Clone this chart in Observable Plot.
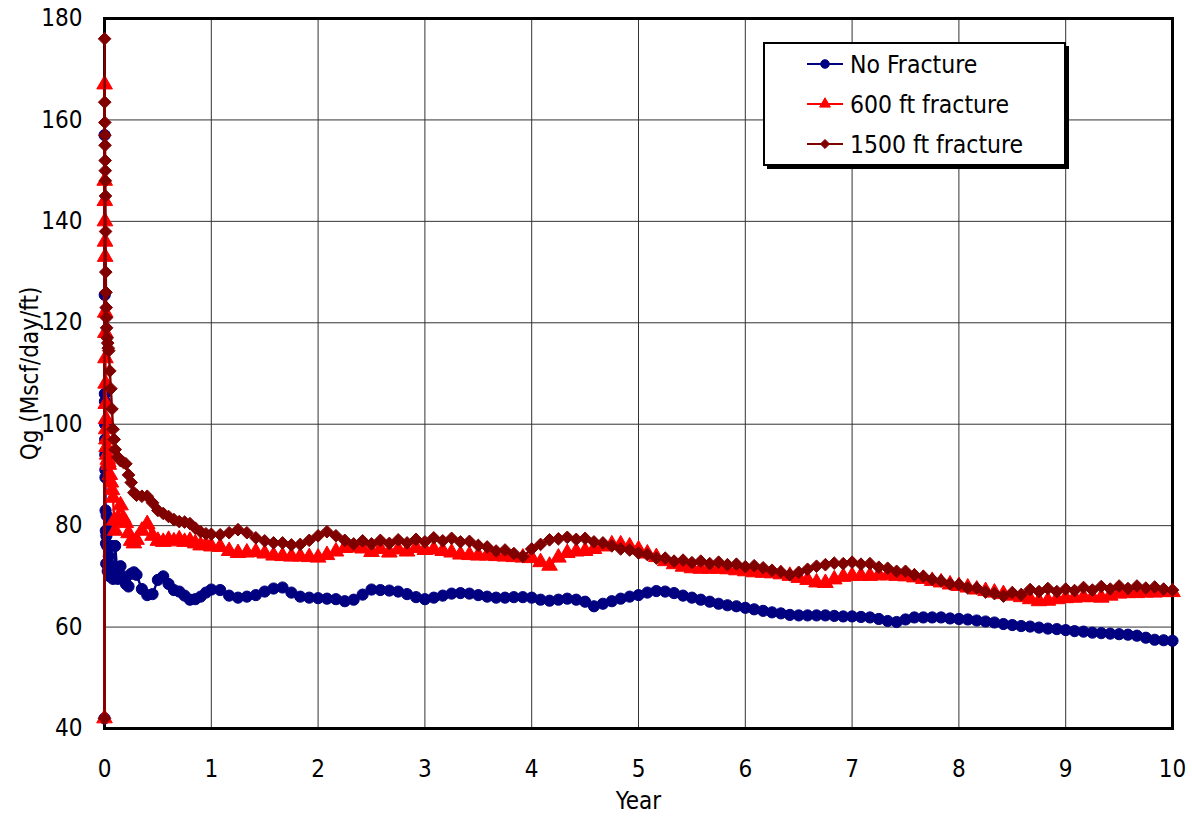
<!DOCTYPE html>
<html><head><meta charset="utf-8">
<script src="https://cdn.jsdelivr.net/npm/d3@7"></script>
<script src="https://cdn.jsdelivr.net/npm/@observablehq/plot@0.6"></script>
<style>
body{margin:0;background:#fff;}
#wrap{position:relative;width:1192px;height:817px;font-family:"DejaVu Sans Condensed","DejaVu Sans",sans-serif;font-stretch:condensed;}
</style></head><body><div id="wrap"></div>
<script>
const years = [0,0.001,0.002,0.003,0.004,0.005,0.006,0.007,0.008,0.009,0.01,0.012,0.014,0.016,0.018,0.02,0.025,0.03,0.035,0.04,0.05,0.06,0.07,0.08,
0.09,0.1,0.125,0.15,0.175,0.2,0.225,0.25,0.275,0.3,0.35,0.4,0.45,0.5,0.55,0.6,0.65,0.7,0.75,0.8,0.85,0.9,0.95,1,
1.083,1.167,1.25,1.333,1.417,1.5,1.583,1.667,1.75,1.833,1.917,2,
2.083,2.167,2.25,2.333,2.417,2.5,2.583,2.667,2.75,2.833,2.917,3,
3.083,3.167,3.25,3.333,3.417,3.5,3.583,3.667,3.75,3.833,3.917,4,
4.083,4.167,4.25,4.333,4.417,4.5,4.583,4.667,4.75,4.833,4.917,5,
5.083,5.167,5.25,5.333,5.417,5.5,5.583,5.667,5.75,5.833,5.917,6,
6.083,6.167,6.25,6.333,6.417,6.5,6.583,6.667,6.75,6.833,6.917,7,
7.083,7.167,7.25,7.333,7.417,7.5,7.583,7.667,7.75,7.833,7.917,8,
8.083,8.167,8.25,8.333,8.417,8.5,8.583,8.667,8.75,8.833,8.917,9,
9.083,9.167,9.25,9.333,9.417,9.5,9.583,9.667,9.75,9.833,9.917,10];

const noFracture = [42,157,125.5,106,104.5,100,97,94,91,89.5,83,79,76.5,72.5,78,82,76,71,79,74,70,76,72,69.5,
70.5,76,69.5,72,70,68.5,68,70.5,70.8,70.3,67.5,66.3,66.5,69.3,70.0,68.5,67.3,67.0,66.2,65.4,65.5,66.0,66.8,67.4,
67.3,66.2,65.8,66.0,66.3,67.0,67.6,67.8,66.8,66.0,65.8,65.7,
65.6,65.5,65.1,65.4,66.4,67.4,67.3,67.2,67.0,66.5,65.9,65.5,
65.8,66.2,66.6,66.7,66.6,66.3,66.0,65.8,65.8,65.9,65.9,65.8,
65.4,65.2,65.4,65.6,65.4,65.0,64.1,64.6,65.1,65.6,66.0,66.3,
66.8,67.1,67.0,66.7,66.2,65.8,65.4,65.0,64.6,64.3,64.1,63.8,
63.5,63.2,62.9,62.7,62.4,62.3,62.3,62.3,62.3,62.2,62.1,62.1,
62.0,61.9,61.6,61.2,61.0,61.5,61.9,61.9,61.9,61.9,61.7,61.6,
61.5,61.3,61.1,60.9,60.6,60.4,60.2,60.1,59.9,59.7,59.6,59.4,
59.2,59.1,58.9,58.8,58.7,58.6,58.5,58.3,57.9,57.5,57.4,57.3];

const frac600 = [42,167,148,144,140,136,133,122,118,113,108,104,101,99,97,95.5,94,93,92.5,92,90,88.5,87,85.5,
81,79,81.5,84,81.5,80.5,78.5,77,76.5,77.2,79,80.3,78,77,76.8,77.2,76.9,77.3,76.8,77.0,76.5,76.1,76.2,75.9,
75.8,75.0,74.6,74.7,74.8,74.5,74.1,74.0,73.9,73.9,73.8,73.7,
74.2,74.9,75.6,75.7,75.5,74.8,75.4,74.7,75.3,74.9,75.6,75.2,
75.3,75.0,74.7,74.3,74.2,74.1,74.1,74.0,73.9,73.8,73.7,73.6,
72.8,72.1,73.7,74.6,74.9,75.0,75.4,75.9,76.3,76.3,75.9,75.3,
74.5,73.8,73.0,72.4,71.9,71.6,71.5,71.5,71.5,71.4,71.2,71.0,
70.8,70.7,70.6,70.4,70.1,69.7,69.3,68.8,68.7,69.4,69.9,70.1,
70.1,70.1,70.2,70.2,70.1,70.0,69.8,69.5,69.1,68.8,68.4,68.1,
67.8,67.4,67.1,66.8,66.5,66.2,65.9,65.5,65.1,65.2,65.5,65.7,
65.8,65.9,65.9,65.8,66.2,66.6,66.7,66.7,66.8,66.8,66.9,66.9];

const frac1500 = [42,176,163.5,159.5,157,155,152,150,148,145,138,130,126,123,121,119,117,116,115,114.5,110.5,107,103,99,
97,95,93.5,92.8,92.5,92.2,90,88.5,86.5,86,85.8,85.8,84.5,83,82.4,81.8,81.2,80.8,80.7,80.4,79.5,78.8,78.4,78.3,
78.2,78.6,79.2,78.6,77.6,77.0,76.6,76.6,76.2,76.3,77.1,78.0,
78.8,78.0,77.1,76.4,77.0,76.4,77.1,76.5,77.2,76.6,77.3,76.8,
77.6,77.0,77.5,76.8,76.9,76.1,75.8,75.0,75.2,74.5,73.9,75.4,
76.3,77.2,77.4,77.7,77.3,77.5,76.8,76.6,76.0,75.4,75.2,74.6,
74.3,73.6,73.6,73.0,73.2,72.7,73.0,72.5,72.8,72.3,72.4,71.9,
72.1,71.7,71.2,70.9,70.3,70.8,71.4,72.0,72.3,72.6,72.5,72.8,
72.4,72.5,71.8,71.6,71.0,71.0,70.3,70.0,69.4,69.1,68.5,68.4,
67.7,67.7,66.9,66.6,66.1,66.8,66.4,67.4,67.0,67.6,67.0,67.5,
67.2,67.8,67.3,68.0,67.5,68.1,67.6,68.1,67.7,67.9,67.5,67.3];

const xTicks = [0,1,2,3,4,5,6,7,8,9,10];
const yTicks = [40,60,80,100,120,140,160,180];
const seriesNames = ["No Fracture","600 ft fracture","1500 ft fracture"];
const seriesValues = [noFracture, frac600, frac1500];
const seriesColors = ["#000080","#FF0000","#800000"];
const seriesSymbols = ["circle","triangle","diamond2"];
const seriesR = [5.6, 5.8, 5.7];
const legendR = [4.3, 4.0, 4.1];
const xLabel = "Year";
const yLabel = "Qg (Mscf/day/ft)";

const FONT = '"DejaVu Sans Condensed","DejaVu Sans",sans-serif';

const series = seriesNames.map((name,i)=>({
  name, color: seriesColors[i], symbol: seriesSymbols[i], r: seriesR[i], lr: legendR[i],
  rows: years.map((t,j)=>({t, v: seriesValues[i][j], name}))
}));

const marks = [
  Plot.ruleX(xTicks.slice(1,-1), {stroke:"#333", strokeWidth:1}),
  Plot.ruleY(yTicks.slice(1,-1), {stroke:"#333", strokeWidth:1}),
  Plot.frame({stroke:"#000", strokeWidth:3}),
];
series.forEach(s=>{
  marks.push(Plot.line(s.rows, {x:"t", y:"v", stroke:s.color, strokeWidth:2.4}));
  marks.push(Plot.dot(s.rows, {x:"t", y:"v", symbol:s.symbol, r:s.r, fill:s.color, stroke:s.color, strokeWidth:1}));
});
marks.push(Plot.text([xLabel], {text:d=>d, frameAnchor:"bottom", textAnchor:"middle", dy:80, fontSize:24, fill:"#000"}));
marks.push(Plot.text([yLabel], {text:d=>d, frameAnchor:"left", textAnchor:"middle", dx:-74, rotate:-90, fontSize:24, fill:"#000"}));

const chart = Plot.plot({
  width:1192, height:817,
  marginLeft:104, marginRight:20, marginTop:18, marginBottom:89,
  style:{fontFamily:FONT, fontSize:"24px", color:"#000", background:"#fff", fontStretch:"condensed"},
  x:{domain:[0,10], ticks:xTicks, tickSize:0, tickPadding:31, label:null, tickFormat:d=>String(d)},
  y:{domain:[40,180], ticks:yTicks, tickSize:0, tickPadding:22, label:null, tickFormat:d=>String(d)},
  marks
});
document.getElementById("wrap").appendChild(chart);

// legend overlay
const lg = d3.select("#wrap").append("svg")
  .attr("width",312).attr("height",132)
  .style("position","absolute").style("left","763px").style("top","42px")
  .style("font-family",FONT).style("font-stretch","condensed");
lg.append("rect").attr("x",4).attr("y",4).attr("width",302).attr("height",123).attr("fill","#000");
lg.append("rect").attr("x",1).attr("y",1).attr("width",301).attr("height",122).attr("fill","#fff").attr("stroke","#000").attr("stroke-width",2);
const symMap = {circle:d3.symbolCircle, triangle:d3.symbolTriangle, diamond2:d3.symbolDiamond2};
series.forEach((s,i)=>{
  const cy = 22 + i*40;
  lg.append("line").attr("x1",44).attr("x2",80).attr("y1",cy).attr("y2",cy).attr("stroke",s.color).attr("stroke-width",2);
  lg.append("path").attr("d", d3.symbol().type(symMap[s.symbol]).size(Math.PI*s.lr*s.lr)())
    .attr("transform",`translate(62,${cy})`).attr("fill",s.color).attr("stroke",s.color);
  lg.append("text").attr("x",87).attr("y",cy).attr("dy","0.35em").attr("font-size",24.5).attr("fill","#000").text(s.name);
});
</script>
</body></html>
